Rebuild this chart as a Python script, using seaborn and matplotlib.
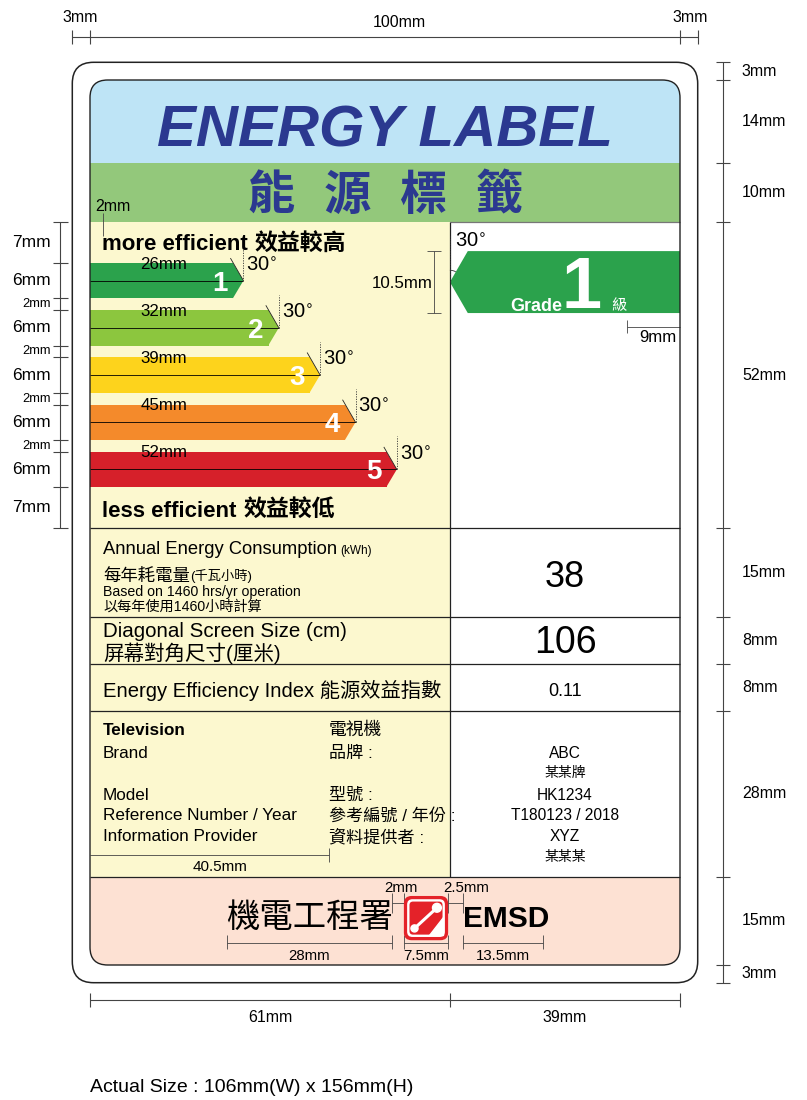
import math
import numpy as np
import matplotlib
matplotlib.use('Agg')
import matplotlib.pyplot as plt
from matplotlib.patches import Rectangle, FancyBboxPatch, Arc
import seaborn as sns

# ---- data (mm) ----
grades = ['1', '2', '3', '4', '5']
grade_lengths = [26, 32, 39, 45, 52]
grade_colors = ['#2ba24c', '#8cc63e', '#fdd31c', '#f48a2b', '#d6202a']
grade_angle = 30
rated_grade = '1'
rated_height = 10.5

section_heights = [14, 10, 52, 15, 8, 8, 28, 15]
section_labels = ['14mm', '10mm', '52mm', '15mm', '8mm', '8mm', '28mm', '15mm']
margin = 3
left_width, right_width = 61, 39
grade_rows = [7, 6, 2, 6, 2, 6, 2, 6, 2, 6, 7]

annual_kwh = '38'
screen_cm = '106'
eei = '0.11'

info_en = ['Television', 'Brand', 'Model', 'Reference Number / Year', 'Information Provider']
info_zh = ['電視機', '品牌 :', '型號 :', '參考編號 / 年份 :', '資料提供者 :']
info_val = ['ABC', '某某牌', 'HK1234', 'T180123 / 2018', 'XYZ', '某某某']

emsd_widths = [28, 2, 7.5, 2.5, 13.5]
emsd_labels = ['28mm', '2mm', '7.5mm', '2.5mm', '13.5mm']

sns.set_theme(style='white')
CJK = 'Noto Sans CJK TC'
REG = ['Liberation Sans', CJK, 'DejaVu Sans']
plt.rcParams['font.family'] = REG
plt.rcParams['text.color'] = 'black'

BLUE = '#2b3990'
DIM = '#444444'
PX = 5.9  # pixels per mm

fig = plt.figure(figsize=(8.07, 11.0), dpi=100)
ax = fig.add_axes([0, 0, 1, 1])
ax.set_xlim(-90 / PX, (807 - 90) / PX)
ax.set_ylim((1100 - 80) / PX, -80 / PX)


def put(x, y, s, size, fam=REG, **kw):
    kw.setdefault('ha', 'left')
    kw.setdefault('va', 'center')
    kw.setdefault('color', 'black')
    return ax.text(x, y, s, fontsize=size, family=fam, zorder=8, **kw)


def right_of(t, gap):
    bb = t.get_window_extent(renderer=fig.canvas.get_renderer())
    return ax.transData.inverted().transform((bb.x1, bb.y0))[0] + gap


def line(xs, ys, color='#222222', lw=0.8, **kw):
    ax.plot(xs, ys, color=color, lw=lw, solid_capstyle='butt', zorder=kw.pop('zorder', 5), **kw)


W = left_width + right_width
bounds = np.concatenate([[0], np.cumsum(section_heights)])
H = bounds[-1]

# ---- outer card ----
ax.add_patch(FancyBboxPatch((-margin, -margin), W + 2 * margin, H + 2 * margin,
                            boxstyle='round,pad=0,rounding_size=3.6',
                            fc='white', ec='#222222', lw=1.1, zorder=0))
clip = FancyBboxPatch((0, 0), W, H, boxstyle='round,pad=0,rounding_size=3.0',
                      fc='none', ec='#222222', lw=1.0, zorder=9)
ax.add_patch(clip)

band_full = {0: '#bee4f6', 1: '#93c87b', 7: '#fde1d3'}
for i in range(len(section_heights)):
    y0, h = bounds[i], section_heights[i]
    if i in band_full:
        parts = [(0, W, band_full[i])]
    else:
        parts = [(0, left_width, '#fcf8cf'), (left_width, right_width, 'white')]
    for x0, w, c in parts:
        r = Rectangle((x0, y0), w, h, fc=c, ec='none', zorder=0.5)
        ax.add_patch(r)
        r.set_clip_path(clip)

# dividers
for y in bounds[3:8]:
    line([0, W], [y, y], lw=0.9)
line([left_width, W], [bounds[2], bounds[2]], color='#777777', lw=0.9)
line([left_width, left_width], [bounds[2], bounds[7]], lw=0.9)

# ---- grade arrows ----
g0 = bounds[2]
tan = math.tan(math.radians(grade_angle))
centers = [g0 + grade_rows[0] + 3 + 8 * i for i in range(len(grades))]
tip = 3 * tan
sns.barplot(x=[L - tip for L in grade_lengths], y=centers, hue=grades, palette=grade_colors,
            orient='y', native_scale=True, width=0.75, saturation=1, errorbar=None,
            legend=False, linewidth=0, ax=ax, zorder=2)
ax.set_xlim(-90 / PX, (807 - 90) / PX)
ax.set_ylim((1100 - 80) / PX, -80 / PX)

# ---- header ----
put(W / 2, bounds[0] + 8.7, 'ENERGY LABEL', 42, weight='bold', style='italic',
    ha='center', color=BLUE)
for i, ch in enumerate('能源標籤'):
    put(W / 2 + (i - 1.5) * 12.9, bounds[1] + 5.6, ch, 34, fam=[CJK], weight='bold',
        ha='center', color=BLUE)

for L, c, col, g in zip(grade_lengths, centers, grade_colors, grades):
    ax.fill([L - tip - 0.05, L, L - tip - 0.05], [c - 3, c, c + 3], color=col, lw=0, zorder=2)
    line([0, L], [c, c], color='black', lw=0.6)
    line([L, L], [c, c - 5.6], color='#333333', lw=0.6, ls=(0, (1.5, 1.5)))
    line([L, L - 4.4 * math.sin(math.radians(grade_angle))],
         [c, c - 4.4 * math.cos(math.radians(grade_angle))], color='#222222', lw=0.6)
    put(L + 0.5, c - 2.6, '30$^{\\circ}$', 14.5)
    put(L - 3.9, c + 0.5, g, 20, weight='bold', color='white', ha='center')
    put(12.5, c - 2.8, f'{L}mm', 12.2, ha='center')

t = put(2.0, g0 + 3.9, 'more efficient', 16, weight='bold')
put(right_of(t, 1.2), g0 + 3.8, '效益較高', 16.5, fam=[CJK], weight='bold')
t = put(2.0, g0 + 49.1, 'less efficient', 16, weight='bold')
put(right_of(t, 1.2), g0 + 49.0, '效益較低', 16.5, fam=[CJK], weight='bold')

# 2mm marker
line([2.2, 2.2], [g0 - 1.4, g0 + 2.5], color=DIM, lw=0.6)
put(0.9, g0 - 2.6, '2mm', 11.5)

# rated grade arrow (right panel)
rc = g0 + 5 + rated_height / 2
rt = rated_height / 2 * tan
ax.fill([left_width, left_width + rt, W, W, left_width + rt],
        [rc, rc - rated_height / 2, rc - rated_height / 2, rc + rated_height / 2, rc + rated_height / 2],
        color=grade_colors[grades.index(rated_grade)], lw=0, zorder=2)
line([left_width, left_width], [rc, g0 + 2.4], color='#333333', lw=0.6, ls=(0, (1.5, 1.5)))
ax.add_patch(Arc((left_width, rc), 4, 4, theta1=270, theta2=300, color='#333333', lw=0.6, zorder=5))
put(left_width + 0.8, g0 + 3.4, '30$^{\\circ}$', 14.5)
put(75.7, rc + 4.1, 'Grade', 13, weight='bold', color='white', ha='center')
put(83.4, rc + 1.2, rated_grade, 52, weight='bold', color='white', ha='center')
put(89.7, rc + 3.9, '級', 11, fam=[CJK], color='white', ha='center')

# 10.5mm / 9mm
line([58.3, 58.3], [rc - rated_height / 2, rc + rated_height / 2], color=DIM, lw=0.6)
for y in (rc - rated_height / 2, rc + rated_height / 2):
    line([57.1, 59.5], [y, y], color=DIM, lw=0.6)
put(58.0, rc + 0.3, '10.5mm', 12.2, ha='right')
line([W - 9, W], [g0 + 17.9, g0 + 17.9], color=DIM, lw=0.6)
line([W - 9, W - 9], [g0 + 16.6, g0 + 18.9], color=DIM, lw=0.6)
put(96.2, g0 + 19.7, '9mm', 12.2, ha='center')

# ---- info rows ----
b3, b4, b5, b6, b7 = bounds[3:8]
xr = left_width + right_width / 2
t = put(2.2, b3 + 3.6, 'Annual Energy Consumption', 13.2)
put(right_of(t, 0.5), b3 + 3.8, '(kWh)', 8.5)
t = put(2.2, b3 + 8.0, '每年耗電量', 12.5, fam=[CJK])
put(right_of(t, 0.1), b3 + 8.1, '(千瓦小時)', 9.5)
put(2.2, b3 + 10.7, 'Based on 1460 hrs/yr operation', 10.2)
put(2.2, b3 + 13.2, '以每年使用1460小時計算', 10.2)
put(xr, b3 + 8.3, annual_kwh, 26, ha='center')

put(2.2, b4 + 2.5, 'Diagonal Screen Size (cm)', 14.8)
put(2.2, b4 + 6.2, '屏幕對角尺寸(厘米)', 14.8)
put(xr, b4 + 4.5, screen_cm, 27, ha='center')

put(2.2, b5 + 4.5, 'Energy Efficiency Index 能源效益指數', 14.6)
put(xr, b5 + 4.7, eei, 13, ha='center')

info_y = [b6 + 3.3, b6 + 7.1, b6 + 14.2, b6 + 17.7, b6 + 21.3]
for s, z, y in zip(info_en, info_zh, info_y):
    put(2.2, y, s, 12.3, weight='bold' if s == info_en[0] else 'normal')
    put(40.5, y, z, 12.8 if z == info_zh[0] else 12.3)
val_y = [b6 + 7.1, b6 + 10.5, b6 + 14.2, b6 + 17.7, b6 + 21.3, b6 + 24.7]
for s, y in zip(info_val, val_y):
    cjk = any(ord(ch) > 0x3000 for ch in s)
    put(xr, y, s, 10 if cjk else 11.2, fam=[CJK] if cjk else REG, ha='center')

line([0, 40.5], [b6 + 24.4, b6 + 24.4], color=DIM, lw=0.6)
line([40.5, 40.5], [b6 + 23.2, b6 + 25.6], color=DIM, lw=0.6)
put(22, b6 + 26.4, '40.5mm', 11, ha='center')

# ---- EMSD footer ----
ex = np.concatenate([[23.2], 23.2 + np.cumsum(emsd_widths)])
ey = b7 + 7.0
put((ex[0] + ex[1]) / 2, ey, '機電工程署', 24, fam=[CJK], ha='center')
put(ex[4], ey + 0.2, 'EMSD', 21.5, weight='bold')
red = '#e42229'
lx, ly, ls_ = ex[2], b7 + 3.3, emsd_widths[2]
ax.add_patch(FancyBboxPatch((lx, ly), ls_, ls_, boxstyle='round,pad=0,rounding_size=1.3',
                            fc=red, ec='none', zorder=6))
ax.add_patch(FancyBboxPatch((lx + 0.55, ly + 0.55), ls_ - 1.1, ls_ - 1.1,
                            boxstyle='round,pad=0,rounding_size=0.9', fc='white', ec='none', zorder=6))
ax.add_patch(FancyBboxPatch((lx + 0.95, ly + 0.95), ls_ - 1.9, ls_ - 1.9,
                            boxstyle='round,pad=0,rounding_size=0.6', fc=red, ec='none', zorder=6))
ax.fill([lx + 6.55, lx + 6.55, lx + 4.2], [ly + 3.6, ly + 6.55, ly + 6.55], color='white', zorder=6.5)
line([lx + 1.9, lx + 5.6], [ly + 5.4, ly + 2.0], color='white', lw=2.2, zorder=7)
ax.add_patch(plt.Circle((lx + 5.6, ly + 2.0), 0.75, color='white', zorder=7))
ax.add_patch(plt.Circle((lx + 1.8, ly + 5.5), 0.6, color='white', zorder=7))

for a, b, lab in [(ex[0], ex[1], emsd_labels[0]), (ex[2], ex[3], emsd_labels[2]),
                  (ex[4], ex[5], emsd_labels[4])]:
    line([a, b], [b7 + 11.3, b7 + 11.3], color=DIM, lw=0.6)
    for xx in (a, b):
        line([xx, xx], [b7 + 9.9, b7 + 12.3], color=DIM, lw=0.6)
    put((a + b) / 2, b7 + 13.4, lab, 10.8, ha='center')
for a, b, lab, xt in [(ex[1], ex[2], emsd_labels[1], 52.7), (ex[3], ex[4], emsd_labels[3], 63.7)]:
    line([a, b], [b7 + 4.5, b7 + 4.5], color=DIM, lw=0.6)
    for xx in (a, b):
        line([xx, xx], [b7 + 2.8, b7 + 6.2], color=DIM, lw=0.6)
    put(xt, b7 + 2.0, lab, 10.8, ha='center')

# ---- outside dimensions ----
# top
line([-margin, W + margin], [-7.3, -7.3], color=DIM)
for xx in (-margin, 0, W, W + margin):
    line([xx, xx], [-8.5, -6.1], color=DIM)
put(-1.7, -10.6, '3mm', 11.5, ha='center')
put(52.5, -9.7, f'{W}mm', 11.5, ha='center')
put(W + 1.7, -10.6, '3mm', 11.5, ha='center')

# right
rb = np.concatenate([[-margin], bounds, [H + margin]])
line([107.3, 107.3], [rb[0], rb[-1]], color=DIM)
for y in rb:
    line([106.1, 108.5], [y, y], color=DIM)
rlabels = ['3mm'] + section_labels + ['3mm']
for i, lab in enumerate(rlabels):
    put(110.5, (rb[i] + rb[i + 1]) / 2, lab, 11.5)

# left
lb = g0 + np.concatenate([[0], np.cumsum(grade_rows)])
line([-5.1, -5.1], [lb[0], lb[-1]], color=DIM)
for y in lb:
    line([-6.3, -3.7], [y, y], color=DIM)
for i, h in enumerate(grade_rows):
    put(-6.6, (lb[i] + lb[i + 1]) / 2, f'{h}mm', 12.5 if h > 2 else 9.3, ha='right')

# bottom
line([0, W], [155.9, 155.9], color=DIM)
for xx in (0, left_width, W):
    line([xx, xx], [154.7, 157.1], color=DIM)
put(left_width / 2, 158.9, f'{left_width}mm', 11.5, ha='center')
put(left_width + right_width / 2, 158.9, f'{right_width}mm', 11.5, ha='center')

put(0, 170.8, 'Actual Size : 106mm(W) x 156mm(H)', 14)

ax.set_xlabel('')
ax.set_ylabel('')
ax.axis('off')

fig.savefig('out.png', dpi=100, facecolor='white')
